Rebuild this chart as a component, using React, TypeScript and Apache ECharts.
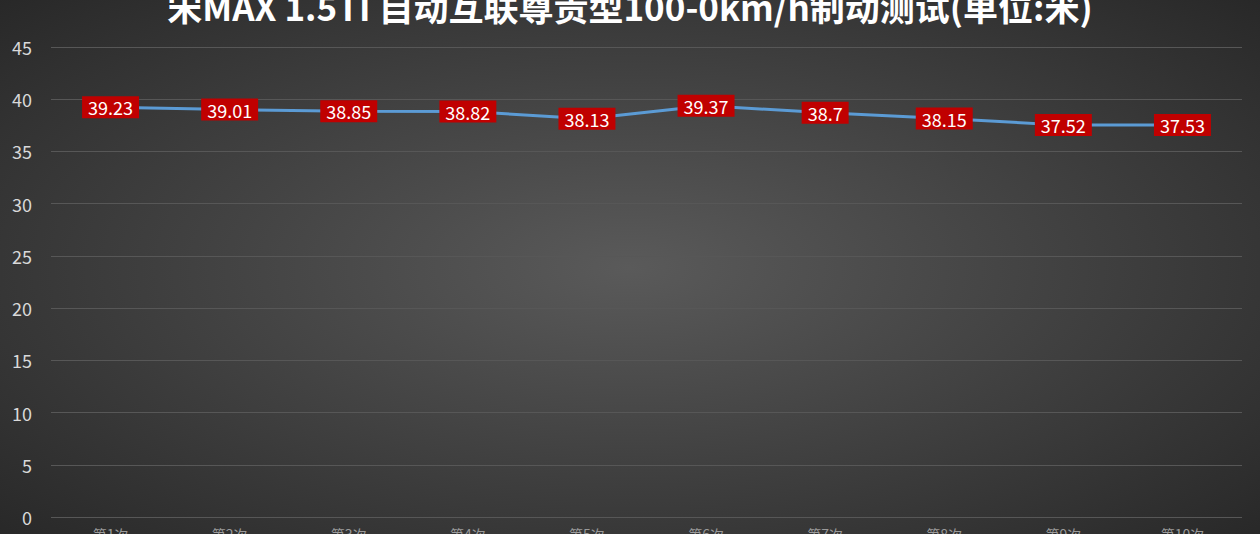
import { useEffect, useRef } from 'react';
import * as echarts from 'echarts';
import type { EChartsOption } from 'echarts';

// 图表数据
const titleText = '宋MAX 1.5TI 自动互联尊贵型100-0km/h制动测试(单位:米)';
const categories = ['第1次', '第2次', '第3次', '第4次', '第5次', '第6次', '第7次', '第8次', '第9次', '第10次'];
const distances = [39.23, 39.01, 38.85, 38.82, 38.13, 39.37, 38.7, 38.15, 37.52, 37.53];
const yTicks = [0, 5, 10, 15, 20, 25, 30, 35, 40, 45];

const FONT = '"Noto Sans CJK SC", "Noto Sans", sans-serif';

const App = () => {
    const chartRef = useRef<HTMLDivElement>(null);

    useEffect(() => {
        document.body.style.margin = '0';
        document.body.style.overflow = 'hidden';
        document.body.style.background = '#2a2a2a';
        if (!chartRef.current) return;
        const chart = echarts.init(chartRef.current, undefined, { renderer: 'svg' });

        const option: EChartsOption = {
            animation: false,
            backgroundColor: new echarts.graphic.RadialGradient(0.5, 0.5, 0.75, [
                { offset: 0, color: '#5a5a5a' },
                { offset: 1, color: '#242424' }
            ]),
            title: {
                text: titleText,
                left: 'center',
                top: -5,
                textStyle: {
                    fontFamily: FONT,
                    fontSize: 35,
                    fontWeight: 'bold',
                    color: '#ffffff'
                }
            },
            grid: {
                left: 51,
                right: 18,
                top: 59,
                bottom: 31
            },
            xAxis: {
                type: 'category',
                data: categories,
                boundaryGap: true,
                axisLine: { show: false },
                axisTick: { show: false },
                axisLabel: {
                    color: '#9a9a9a',
                    fontFamily: FONT,
                    fontSize: 14,
                    margin: 10
                }
            },
            yAxis: {
                type: 'value',
                min: 0,
                max: yTicks[yTicks.length - 1],
                interval: 5,
                axisLine: { show: false },
                axisTick: { show: false },
                axisLabel: {
                    color: '#d9d9d9',
                    fontFamily: FONT,
                    fontSize: 18,
                    margin: 19
                },
                splitLine: {
                    lineStyle: { color: '#575757', width: 1 }
                }
            },
            series: [
                {
                    type: 'line',
                    data: distances,
                    symbol: 'circle',
                    symbolSize: 4,
                    showSymbol: true,
                    itemStyle: { color: '#5b9bd5' },
                    lineStyle: { color: '#5b9bd5', width: 3 },
                    label: {
                        show: true,
                        position: 'inside',
                        color: '#ffffff',
                        backgroundColor: '#c00000',
                        fontFamily: FONT,
                        fontSize: 18,
                        padding: [3, 6, 1, 6]
                    },
                    labelLayout: { hideOverlap: false }
                }
            ]
        };

        chart.setOption(option);
        return () => {
            chart.dispose();
        };
    }, []);

    return (
        <div
            ref={chartRef}
            style={{
                position: 'absolute',
                left: 0,
                top: -12,
                width: '1260px',
                height: '560px'
            }}
        />
    );
};

export default App;
